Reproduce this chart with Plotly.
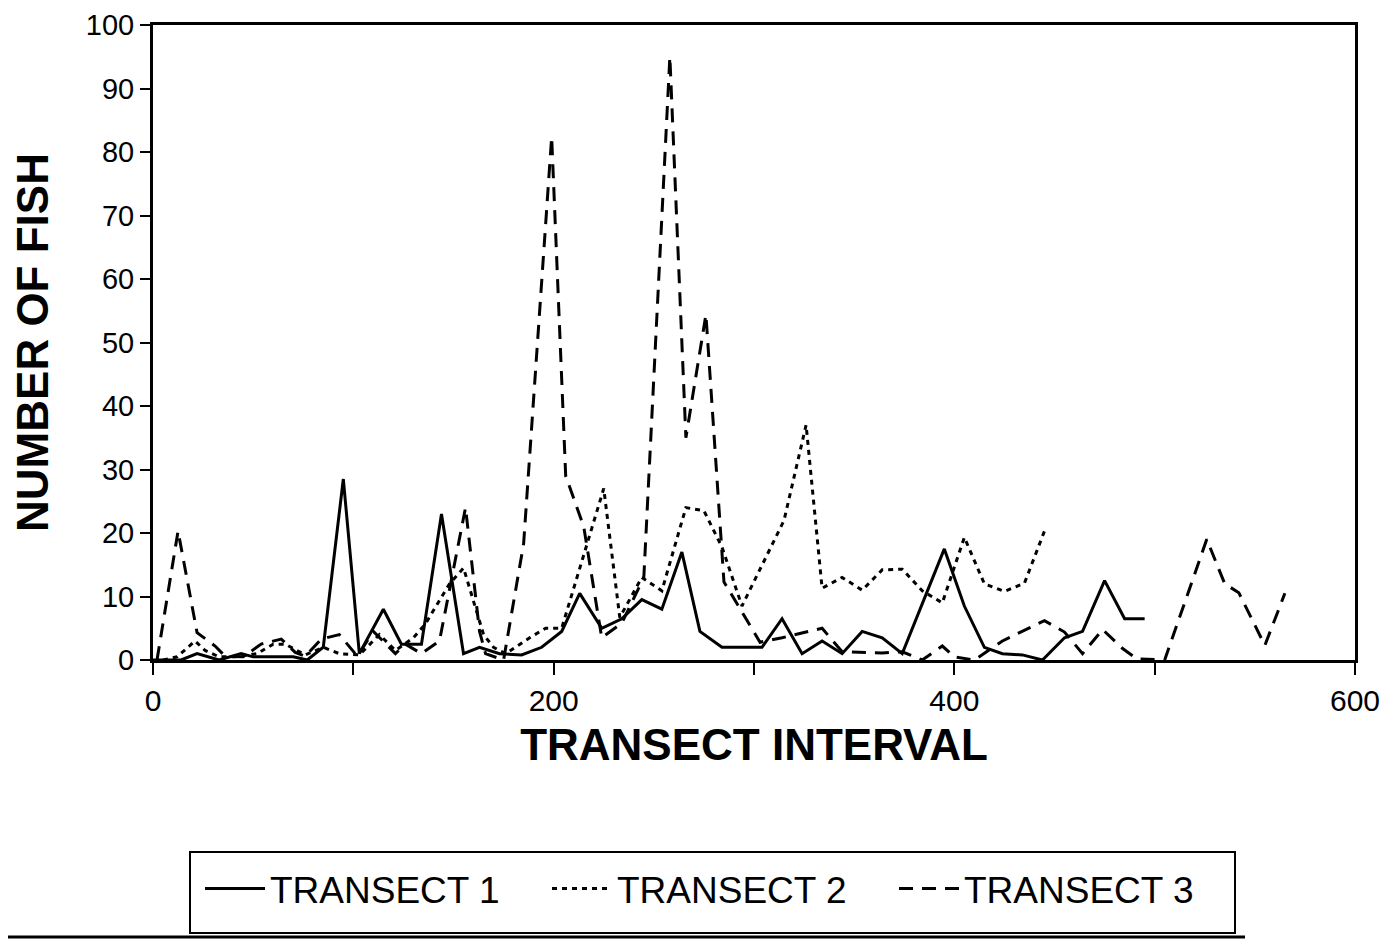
import plotly.graph_objects as go

# Transect 1 (solid)
t1_x = [0, 5, 14, 22, 33, 44, 50, 60, 70, 77, 85, 95, 103, 115, 124, 134, 144, 155, 163, 173,
        184, 194, 204, 213, 224, 234, 244, 254, 264, 273, 284, 294, 304, 314, 324, 334, 344, 354,
        364, 374, 395, 405, 415, 424, 434, 444, 455, 464, 475, 485, 495]
t1_y = [0, 0, 0, 1, 0, 1, 0.5, 0.5, 0.5, 0, 2, 28.5, 1, 8, 2.5, 2.5, 23, 1, 2, 1,
        0.8, 2, 4.5, 10.5, 5, 6.5, 9.5, 8, 17, 4.5, 2, 2, 2, 6.5, 1, 3, 1, 4.5,
        3.5, 1, 17.5, 8.5, 2, 1, 0.8, 0, 3.5, 4.5, 12.5, 6.5, 6.5]

# Transect 2 (dotted)
t2_x = [5, 12, 21, 26, 33, 41, 52, 60, 66, 76, 85, 93, 103, 113, 121, 130, 136, 148, 155, 165,
        170, 176, 188, 196, 204, 225, 233, 244, 254, 266, 275, 284, 294, 315, 326, 334, 344, 354,
        364, 374, 384, 394, 405, 415, 425, 435, 445]
t2_y = [0, 0.5, 3, 1.5, 0.5, 0.5, 1, 2.5, 2.5, 0.8, 2, 1, 0.8, 4, 1.5, 3.5, 5.7, 12, 14.5, 4,
        2, 1, 3.5, 5, 5, 27, 6.7, 13, 10.9, 24, 23.5, 17.8, 8.5, 22, 37, 11.3, 13, 11,
        14.2, 14.3, 10.9, 9, 19.3, 12, 10.8, 12.1, 20.3]

# Transect 3 (dashed)
t3_x = [2, 12.5, 22, 31, 36, 45, 54, 64, 71, 76, 84, 93, 102, 110, 121, 126, 134, 143, 156, 163,
        166, 175, 185, 199, 206, 215, 224, 234, 245, 258, 266, 276, 285, 303, 314, 324, 334, 344,
        364, 374, 384, 394, 400, 410, 424, 445, 455, 464, 474, 484, 491, 505, 526, 535, 542, 555, 565]
t3_y = [0, 20.3, 4.3, 2.2, 0.6, 0.5, 2.5, 3.3, 1.2, 0.6, 3.3, 4, 0.6, 4.5, 1, 2.5, 1, 3, 24, 4.5,
        1, 0, 18.3, 82.4, 29, 21, 3.5, 5.8, 13, 95, 35, 54.4, 12.3, 2.8, 3.5, 4.3, 5, 1.3,
        1.1, 1.3, 0, 2.2, 0.5, 0, 3, 6.2, 4.4, 1, 4.8, 1.8, 0.2, 0, 19, 12, 10.6, 2.3, 10.5]

x_ticks = [0, 100, 200, 300, 400, 500, 600]
x_tick_labels = ["0", "", "200", "", "400", "", "600"]
y_ticks = [0, 10, 20, 30, 40, 50, 60, 70, 80, 90, 100]

series_names = ["TRANSECT 1", "TRANSECT 2", "TRANSECT 3"]

fig = go.Figure()
fig.add_trace(go.Scatter(x=t1_x, y=t1_y, mode="lines", name=series_names[0],
                         line=dict(color="black", width=3, dash="solid")))
fig.add_trace(go.Scatter(x=t2_x, y=t2_y, mode="lines", name=series_names[1],
                         line=dict(color="black", width=3, dash="5px,5px")))
fig.add_trace(go.Scatter(x=t3_x, y=t3_y, mode="lines", name=series_names[2],
                         line=dict(color="black", width=3, dash="14px,9px")))

reg = "Liberation Sans, Arial, Helvetica, sans-serif"

# the page body has an 8px margin; work in page pixels and shift
OFF = 8
W, H = 1399 - OFF, 941 - OFF
PL, PR, PT, PB = 153, 1355, 25, 660  # plot area in page pixels
L, T = PL - OFF, PT - OFF
R = W - (PR - OFF)
B = H - (PB - OFF)
pw, ph = W - L - R, H - T - B


def px_to_paper(px, py):
    return (px - PL) / pw, (PB - py) / ph


fig.update_layout(
    width=W, height=H,
    margin=dict(l=L, r=R, t=T, b=B, autoexpand=False),
    paper_bgcolor="white", plot_bgcolor="white",
    showlegend=True,
    legend=dict(
        orientation="h", xref="container", yref="container",
        x=(200 - OFF) / W, y=1 - (889 - OFF) / H, xanchor="left", yanchor="middle",
        borderwidth=0,
        font=dict(family=reg, size=37, color="black"),
        bgcolor="rgba(0,0,0,0)", itemwidth=60,
        entrywidth=272, entrywidthmode="pixels",
    ),
    xaxis=dict(
        range=[0, 600], tickvals=x_ticks, ticktext=x_tick_labels,
        showgrid=False, zeroline=False, automargin=False, ticklabeloverflow="allow",
        showline=True, linecolor="black", linewidth=3, mirror=True,
        ticks="outside", ticklen=12, tickwidth=2, tickcolor="black",
        tickfont=dict(family=reg, size=30, color="black"),
        title=dict(text="<b>TRANSECT INTERVAL</b>", standoff=14,
                   font=dict(family=reg, size=44, color="black")),
    ),
    yaxis=dict(
        range=[0, 100], tickvals=y_ticks,
        showgrid=False, zeroline=False, automargin=False, ticklabeloverflow="allow",
        showline=True, linecolor="black", linewidth=3, mirror=True,
        ticks="outside", ticklen=10, tickwidth=2, tickcolor="black",
        tickfont=dict(family=reg, size=29, color="black"),
        title=dict(text="<b>NUMBER OF FISH</b>", standoff=34,
                   font=dict(family=reg, size=44, color="black")),
    ),
)

# legend frame
x0, y0 = px_to_paper(190, 852)
x1, y1 = px_to_paper(1235, 933)
fig.add_shape(type="rect", xref="paper", yref="paper", x0=x0, y0=y1, x1=x1, y1=y0,
              line=dict(color="black", width=2), fillcolor="rgba(0,0,0,0)")

# bottom rule of the scanned page
rx0, ry = px_to_paper(OFF, 937)
rx1, _ = px_to_paper(1245, 937)
fig.add_shape(type="line", xref="paper", yref="paper",
              x0=rx0, x1=rx1, y0=ry, y1=ry,
              line=dict(color="black", width=3))

fig.write_html("out.html")
